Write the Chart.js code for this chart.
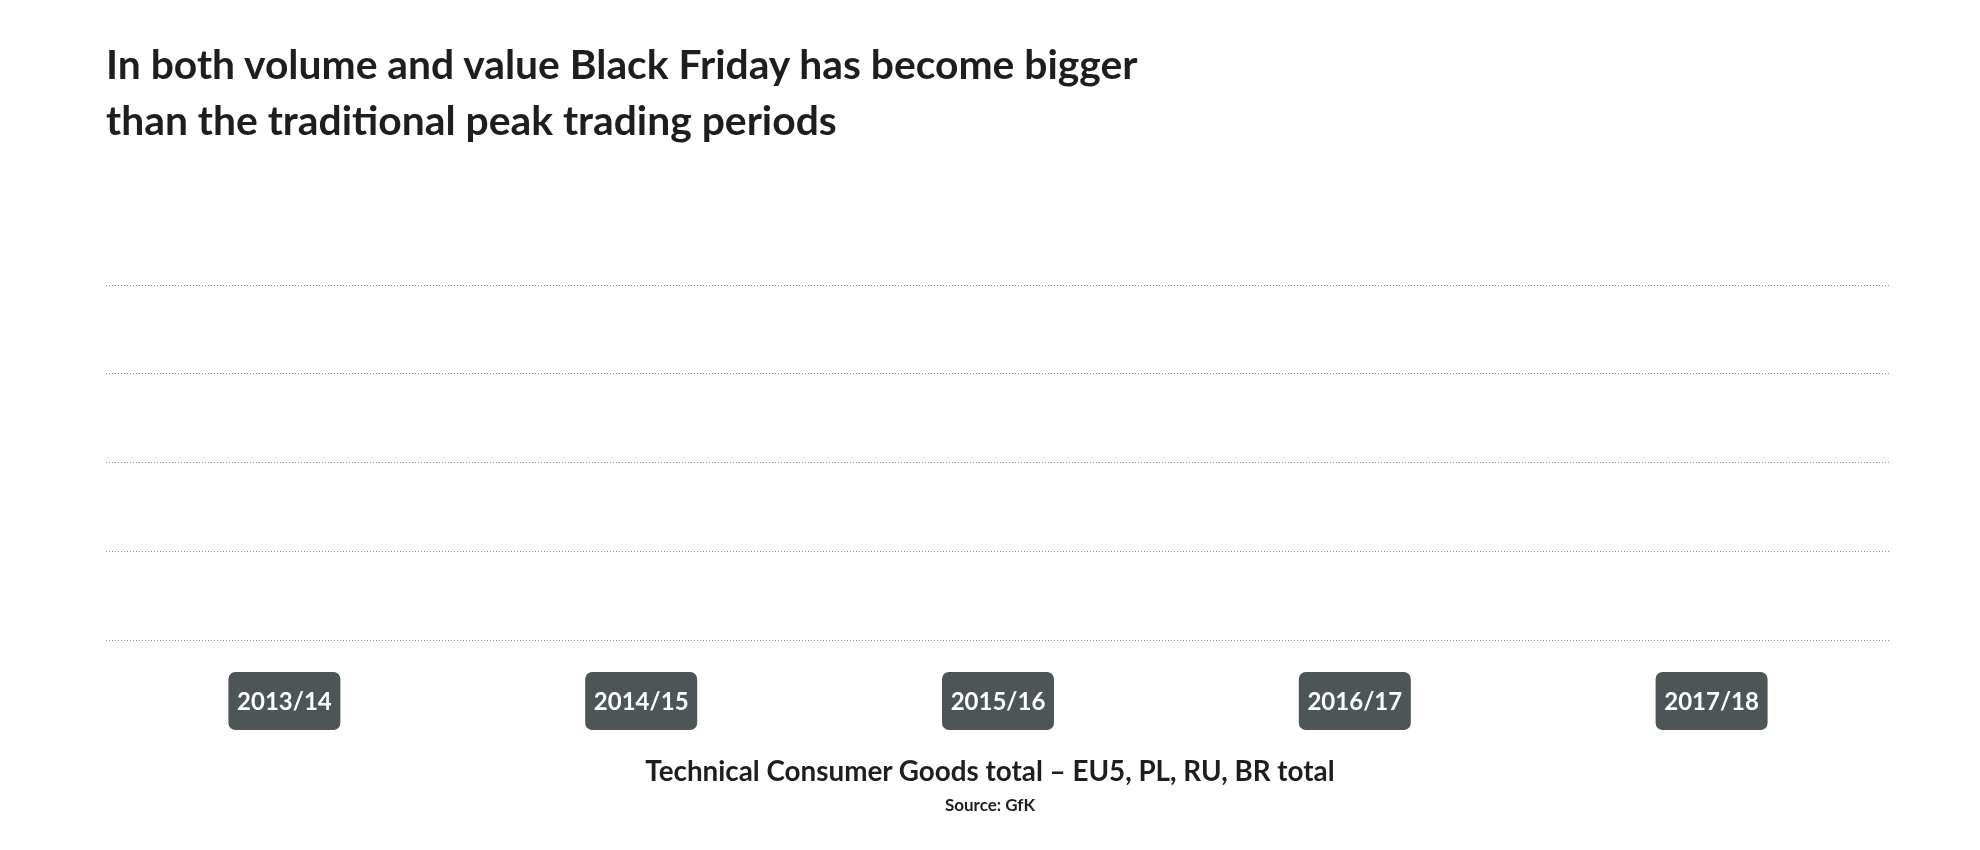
<!DOCTYPE html>
<html>
<head>
<meta charset="utf-8">
<script src="https://cdn.jsdelivr.net/npm/chart.js@4"></script>
<style>
  body { margin: 0; background: #fff; font-family: Lato, sans-serif; color: #222; }
  #wrap { position: relative; width: 1980px; height: 850px; }
  h1 { position: absolute; left: 106px; top: 36px; margin: 0; font-size: 40.8px; line-height: 56px; font-weight: 700; color: #1e1e1e; }
  .sub { position: absolute; left: 0; width: 1980px; text-align: center; font-weight: 700; color: #1e1e1e; }
  canvas { position: absolute; left: 0; top: 0; }
</style>
</head>
<body>
<div id="wrap">
  <canvas id="chart" width="1980" height="850"></canvas>
  <h1>In both volume and value Black Friday has become bigger<br>than the traditional peak trading periods</h1>
  <div class="sub" style="top:754px;font-size:27.8px;">Technical Consumer Goods total – EU5, PL, RU, BR total</div>
  <div class="sub" style="top:794px;font-size:17px;">Source: GfK</div>
</div>
<script>
const periods = ['2013/14', '2014/15', '2015/16', '2016/17', '2017/18'];
// no values are shown in the picture
const values = [null, null, null, null, null];
const gridTicks = [0, 1, 2, 3, 4];

const labelBoxes = {
    id: 'labelBoxes',
    afterDraw(chart) {
        const ctx = chart.ctx;
        const x = chart.scales.x;
        ctx.save();
        ctx.font = 'bold 24px Lato';
        ctx.textAlign = 'center';
        ctx.textBaseline = 'middle';
        periods.forEach((p, i) => {
            const cx = x.getPixelForTick(i);
            const cy = 701;
            ctx.fillStyle = '#4d5557';
            ctx.beginPath();
            ctx.roundRect(cx - 56, cy - 29, 112, 58, 7);
            ctx.fill();
            ctx.fillStyle = '#fff';
            ctx.fillText(p, cx, cy + 1);
        });
        ctx.restore();
    }
};

new Chart(document.getElementById('chart'), {
    type: 'bar',
    data: { labels: periods, datasets: [{ data: values, backgroundColor: '#4d5557' }] },
    options: {
        responsive: false,
        animation: false,
        layout: { padding: { left: 106, right: 90, top: 285, bottom: 202 } },
        plugins: { legend: { display: false }, tooltip: { enabled: false } },
        scales: {
            x: { ticks: { display: false }, grid: { display: false }, border: { display: false } },
            y: {
                min: 0, max: 4,
                afterBuildTicks: s => { s.ticks = gridTicks.map(v => ({ value: v })); },
                ticks: { display: false },
                grid: { color: '#888', lineWidth: 1, drawTicks: false },
                border: { display: false, dash: [1, 2] }
            }
        }
    },
    plugins: [labelBoxes]
});
</script>
</body>
</html>
